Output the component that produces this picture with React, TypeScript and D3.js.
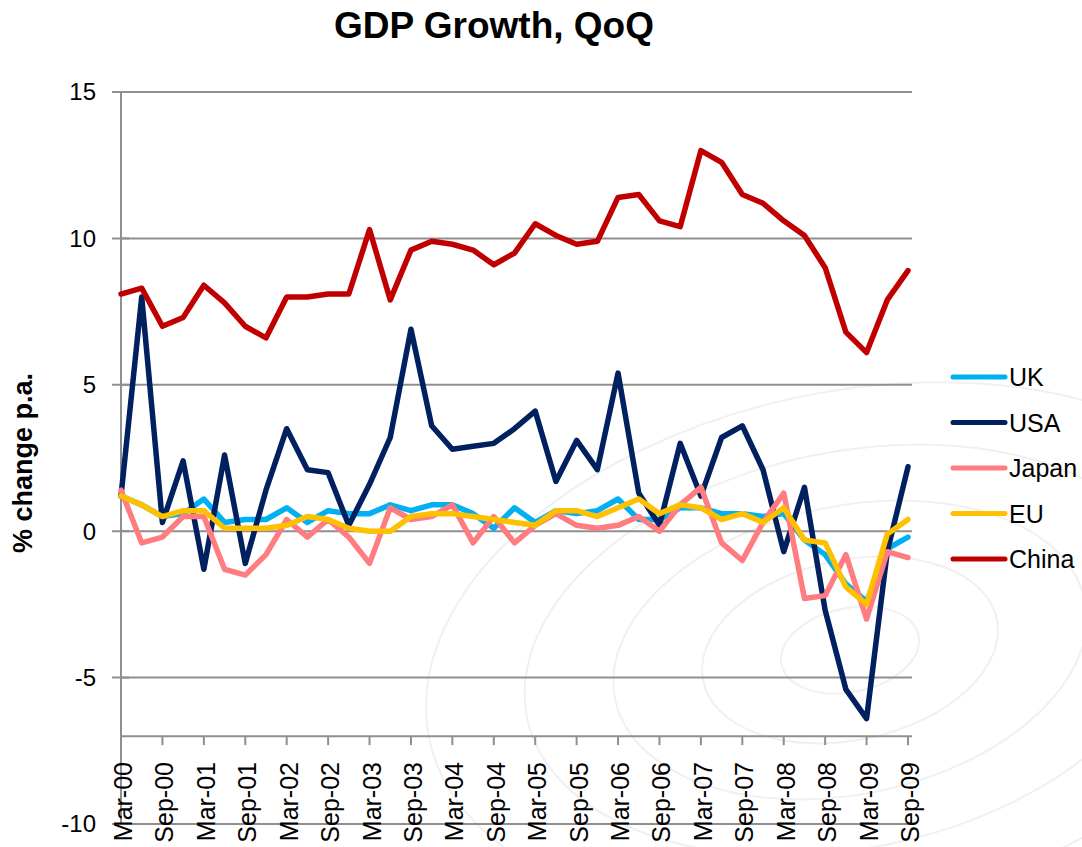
import React from "react";
import * as d3 from "d3";

// quarters Mar-00 .. Sep-09
const years = ["00", "01", "02", "03", "04", "05", "06", "07", "08", "09"];
const months = ["Mar", "Jun", "Sep", "Dec"];
const quarters: string[] = years
  .flatMap((y) => months.map((m) => `${m}-${y}`))
  .slice(0, 39);

const ukData = [1.2, 0.9, 0.5, 0.6, 1.1, 0.3, 0.4, 0.4, 0.8, 0.3, 0.7, 0.6, 0.6, 0.9, 0.7, 0.9, 0.9, 0.6, 0.1, 0.8, 0.3, 0.7, 0.6, 0.7, 1.1, 0.4, 0.4, 0.8, 0.8, 0.6, 0.6, 0.5, 0.6, -0.3, -0.8, -1.8, -2.4, -0.6, -0.2];
const usaData = [1.2, 8.0, 0.3, 2.4, -1.3, 2.6, -1.1, 1.4, 3.5, 2.1, 2.0, 0.2, 1.6, 3.2, 6.9, 3.6, 2.8, 2.9, 3.0, 3.5, 4.1, 1.7, 3.1, 2.1, 5.4, 1.3, 0.2, 3.0, 1.2, 3.2, 3.6, 2.1, -0.7, 1.5, -2.7, -5.4, -6.4, -0.7, 2.2];
const japanData = [1.4, -0.4, -0.2, 0.5, 0.5, -1.3, -1.5, -0.8, 0.4, -0.2, 0.4, -0.2, -1.1, 0.8, 0.4, 0.5, 0.9, -0.4, 0.5, -0.4, 0.2, 0.6, 0.2, 0.1, 0.2, 0.5, 0.0, 0.9, 1.5, -0.4, -1.0, 0.3, 1.3, -2.3, -2.2, -0.8, -3.0, -0.7, -0.9];
const euData = [1.2, 0.9, 0.5, 0.7, 0.7, 0.1, 0.1, 0.1, 0.2, 0.5, 0.4, 0.1, 0.0, 0.0, 0.5, 0.6, 0.6, 0.5, 0.4, 0.3, 0.2, 0.7, 0.7, 0.5, 0.8, 1.1, 0.6, 0.9, 0.8, 0.4, 0.6, 0.3, 0.8, -0.3, -0.4, -1.9, -2.5, -0.1, 0.4];
const chinaData = [8.1, 8.3, 7.0, 7.3, 8.4, 7.8, 7.0, 6.6, 8.0, 8.0, 8.1, 8.1, 10.3, 7.9, 9.6, 9.9, 9.8, 9.6, 9.1, 9.5, 10.5, 10.1, 9.8, 9.9, 11.4, 11.5, 10.6, 10.4, 13.0, 12.6, 11.5, 11.2, 10.6, 10.1, 9.0, 6.8, 6.1, 7.9, 8.9];

const seriesNames = ["UK", "USA", "Japan", "EU", "China"];
const seriesValues = [ukData, usaData, japanData, euData, chinaData];
const seriesColors = ["#00B0F0", "#002060", "#FF7C80", "#FFC000", "#C00000"];

const yTicks = [15, 10, 5, 0, -5, -10];

const W = 1082;
const H = 847;
const font = "'Liberation Sans', Arial, Helvetica, sans-serif";
const gridColor = "#8f8f8f";

export default function App() {
  const x = d3.scalePoint<string>().domain(quarters).range([121, 908]);
  const y = d3.scaleLinear().domain([-10, 15]).range([824, 92]);
  const plotRight = 912;
  const axisY = y(-7);

  const line = d3
    .line<number>()
    .x((_, i) => x(quarters[i]) as number)
    .y((d) => y(d));

  const labelled = quarters.filter((_, i) => i % 2 === 0);

  return (
    <svg
      width={W}
      height={H}
      style={{ position: "absolute", left: 0, top: 0, background: "#fff" }}
      fontFamily={font}
    >
      {/* faint watermark in the background */}
      <g fill="none" stroke="#f0f0f0" strokeWidth={2}>
        {[70, 150, 240, 330, 430].map((r, i) => (
          <ellipse key={i} cx={850} cy={650} rx={r} ry={r * 0.6} transform="rotate(-12 850 650)" />
        ))}
      </g>

      <text x={494} y={38} textAnchor="middle" fontSize={37} fontWeight="bold">
        GDP Growth, QoQ
      </text>

      {/* gridlines */}
      {yTicks.map((t) => (
        <g key={t}>
          <line x1={112} x2={plotRight} y1={y(t)} y2={y(t)} stroke={gridColor} strokeWidth={2} />
          <text x={96} y={y(t)} dy="0.35em" textAnchor="end" fontSize={24}>
            {t}
          </text>
        </g>
      ))}

      {/* y axis */}
      <line x1={121} x2={121} y1={y(15)} y2={y(-10)} stroke={gridColor} strokeWidth={2} />
      {yTicks.map((t) => (
        <line key={"yt" + t} x1={121} x2={129} y1={y(t)} y2={y(t)} stroke={gridColor} strokeWidth={2} />
      ))}

      {/* x axis */}
      <line x1={121} x2={plotRight} y1={axisY} y2={axisY} stroke={gridColor} strokeWidth={2} />
      {labelled.map((q) => (
        <g key={q}>
          <line x1={x(q)} x2={x(q)} y1={axisY} y2={axisY + 9} stroke={gridColor} strokeWidth={2} />
          <text
            transform={`translate(${x(q)},762) rotate(-90)`}
            y={11}
            textAnchor="end"
            fontSize={25}
          >
            {q}
          </text>
        </g>
      ))}

      <text
        transform="translate(32,463) rotate(-90)"
        textAnchor="middle"
        fontSize={27}
        fontWeight="bold"
      >
        % change p.a.
      </text>

      {/* series */}
      {seriesValues.map((vals, i) => (
        <path
          key={seriesNames[i]}
          d={line(vals) || ""}
          fill="none"
          stroke={seriesColors[i]}
          strokeWidth={5.5}
          strokeLinejoin="round"
          strokeLinecap="round"
        />
      ))}

      {/* legend */}
      {seriesNames.map((n, i) => {
        const ly = 377 + i * 45.5;
        return (
          <g key={"lg" + n}>
            <line x1={953} x2={1005} y1={ly} y2={ly} stroke={seriesColors[i]} strokeWidth={5} strokeLinecap="round" />
            <text x={1009} y={ly} dy="0.36em" fontSize={25}>
              {n}
            </text>
          </g>
        );
      })}
    </svg>
  );
}
